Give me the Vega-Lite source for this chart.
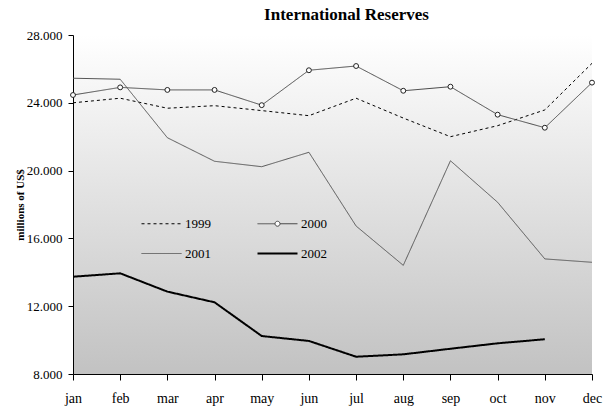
{
  "$schema": "https://vega.github.io/schema/vega-lite/v6.json",
  "width": 519,
  "height": 339,
  "autosize": "none",
  "padding": {"left": 73, "top": 35, "right": 19, "bottom": 37},
  "background": "white",
  "config": {
    "font": "Liberation Serif",
    "view": {
      "stroke": null,
      "fill": {
        "gradient": "linear",
        "x1": 0, "y1": 0, "x2": 0, "y2": 1,
        "stops": [
          {"offset": 0, "color": "#ffffff"},
          {"offset": 1, "color": "#c2c2c2"}
        ]
      }
    },
    "axis": {
      "domainColor": "#000000",
      "tickColor": "#000000",
      "labelColor": "#000000",
      "titleColor": "#000000",
      "grid": false
    },
    "axisX": {
      "ticks": true,
      "tickSize": 6,
      "tickWidth": 1,
      "tickOpacity": 1,
      "tickColor": "#000000"
    }
  },
  "title": {
    "text": "International Reserves",
    "font": "Liberation Serif",
    "fontSize": 17,
    "fontWeight": "bold",
    "color": "#000000",
    "anchor": "middle",
    "dx": 14,
    "offset": 5
  },
  "data": {
    "values": [
      {"month": "jan", "year": "1999", "value": 24000},
      {"month": "feb", "year": "1999", "value": 24270},
      {"month": "mar", "year": "1999", "value": 23680},
      {"month": "apr", "year": "1999", "value": 23830},
      {"month": "may", "year": "1999", "value": 23540},
      {"month": "jun", "year": "1999", "value": 23240},
      {"month": "jul", "year": "1999", "value": 24270},
      {"month": "aug", "year": "1999", "value": 23100},
      {"month": "sep", "year": "1999", "value": 22000},
      {"month": "oct", "year": "1999", "value": 22650},
      {"month": "nov", "year": "1999", "value": 23580},
      {"month": "dec", "year": "1999", "value": 26330},

      {"month": "jan", "year": "2000", "value": 24460},
      {"month": "feb", "year": "2000", "value": 24910},
      {"month": "mar", "year": "2000", "value": 24760},
      {"month": "apr", "year": "2000", "value": 24760},
      {"month": "may", "year": "2000", "value": 23860},
      {"month": "jun", "year": "2000", "value": 25920},
      {"month": "jul", "year": "2000", "value": 26170},
      {"month": "aug", "year": "2000", "value": 24710},
      {"month": "sep", "year": "2000", "value": 24950},
      {"month": "oct", "year": "2000", "value": 23300},
      {"month": "nov", "year": "2000", "value": 22530},
      {"month": "dec", "year": "2000", "value": 25190},

      {"month": "jan", "year": "2001", "value": 25450},
      {"month": "feb", "year": "2001", "value": 25390},
      {"month": "mar", "year": "2001", "value": 21940},
      {"month": "apr", "year": "2001", "value": 20550},
      {"month": "may", "year": "2001", "value": 20230},
      {"month": "jun", "year": "2001", "value": 21080},
      {"month": "jul", "year": "2001", "value": 16730},
      {"month": "aug", "year": "2001", "value": 14410},
      {"month": "sep", "year": "2001", "value": 20580},
      {"month": "oct", "year": "2001", "value": 18130},
      {"month": "nov", "year": "2001", "value": 14790},
      {"month": "dec", "year": "2001", "value": 14590},

      {"month": "jan", "year": "2002", "value": 13740},
      {"month": "feb", "year": "2002", "value": 13940},
      {"month": "mar", "year": "2002", "value": 12860},
      {"month": "apr", "year": "2002", "value": 12230},
      {"month": "may", "year": "2002", "value": 10240},
      {"month": "jun", "year": "2002", "value": 9950},
      {"month": "jul", "year": "2002", "value": 9020},
      {"month": "aug", "year": "2002", "value": 9160},
      {"month": "sep", "year": "2002", "value": 9490},
      {"month": "oct", "year": "2002", "value": 9810},
      {"month": "nov", "year": "2002", "value": 10050}
    ]
  },
  "encoding": {
    "x": {
      "field": "month",
      "type": "ordinal",
      "scale": {
        "type": "point",
        "padding": 0,
        "domain": ["jan", "feb", "mar", "apr", "may", "jun", "jul", "aug", "sep", "oct", "nov", "dec"]
      },
      "axis": {
        "title": null,
        "labelAngle": 0,
        "ticks": true,
        "tickSize": 6,
        "labelPadding": 11,
        "labelFont": "Liberation Serif",
        "labelFontSize": 14
      }
    },
    "y": {
      "field": "value",
      "type": "quantitative",
      "scale": {"domain": [8000, 28000], "nice": false, "zero": false},
      "axis": {
        "title": "millions of US$",
        "titleFont": "Liberation Serif",
        "titleFontSize": 11,
        "titleFontWeight": "bold",
        "titlePadding": 1,
        "values": [8000, 12000, 16000, 20000, 24000, 28000],
        "labelExpr": "replace(format(datum.value, ','), ',', '.')",
        "tickSize": 5,
        "labelPadding": 6,
        "labelFont": "Liberation Serif",
        "labelFontSize": 13
      }
    }
  },
  "layer": [
    {
      "mark": {"type": "line", "interpolate": "linear"},
      "encoding": {
        "color": {
          "field": "year",
          "type": "nominal",
          "scale": {
            "domain": ["1999", "2000", "2001", "2002"],
            "range": ["#000000", "#4a4a4a", "#555555", "#000000"]
          },
          "legend": {
            "title": null,
            "orient": "none",
            "legendX": 62,
            "legendY": 182,
            "direction": "horizontal",
            "columns": 2,
            "columnPadding": 40,
            "rowPadding": 16,
            "padding": 0,
            "symbolSize": 100,
            "symbolOffset": 20,
            "labelOffset": 17,
            "labelFont": "Liberation Serif",
            "labelFontSize": 13,
            "labelColor": "#000000",
            "encode": {
              "symbols": {
                "update": {
                  "shape": {"signal": "datum.value === '2000' ? 'M-4,0L-0.5,0M0.5,0L4,0M-0.5,0A0.5,0.5,0,1,1,0.5,0A0.5,0.5,0,1,1,-0.5,0Z' : 'M-4,0L4,0'"},
                  "strokeDash": {"signal": "datum.value === '1999' ? [3, 3] : [1, 0]"},
                  "strokeWidth": {"signal": "datum.value === '2002' ? 2 : 1"},
                  "fill": {"signal": "datum.value === '2000' ? 'white' : 'transparent'"}
                }
              }
            }
          }
        },
        "strokeDash": {
          "condition": {"test": "datum.year === '1999'", "value": [3, 3]},
          "value": [1, 0]
        },
        "strokeWidth": {
          "condition": {"test": "datum.year === '2002'", "value": 2},
          "value": 1
        }
      }
    },
    {
      "transform": [{"filter": "datum.year === '2000'"}],
      "mark": {
        "type": "point",
        "shape": "circle",
        "filled": true,
        "fill": "white",
        "stroke": "#222222",
        "strokeWidth": 1,
        "size": 24,
        "opacity": 1
      }
    }
  ]
}
